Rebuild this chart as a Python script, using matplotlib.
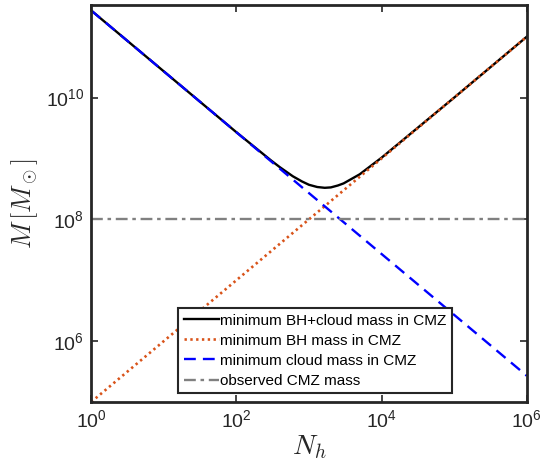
import matplotlib
matplotlib.use("Agg")
import matplotlib.pyplot as plt
from matplotlib.ticker import NullLocator

plt.rcParams['font.family'] = ['Liberation Sans', 'DejaVu Sans']
plt.rcParams['mathtext.fontset'] = 'cm'

# минимальная масса облака: прямая в log-log (концы)
n_cloud = [1, 1e6]
m_cloud = [2.7e11, 2.7e5]
# минимальная масса ЧД
n_bh = [1, 1e6]
m_bh = [1e5, 1e11]
# сумма ЧД + облако
n_tot = [1, 10, 100, 300, 400, 600, 800, 1000, 1300, 1650, 2000, 2500, 3000, 5000, 1e4, 1e5, 1e6]
m_tot = [2.7e11, 2.7e10, 2.7e9, 9.3e8, 7.15e8, 5.1e8, 4.2e8, 3.7e8, 3.4e8, 3.3e8,
         3.35e8, 3.6e8, 3.9e8, 5.5e8, 1.03e9, 1.0e10, 1.0e11]
# наблюдаемая масса CMZ
m_obs = 1e8

fig = plt.figure(figsize=(5.43, 4.74), dpi=100)
ax = fig.add_axes([0.168, 0.152, 0.802, 0.837])

ax.plot(n_tot, m_tot, color='black', lw=1.7, label='minimum BH+cloud mass in CMZ')
ax.plot(n_bh, m_bh, color='#D95319', lw=1.9, ls=(0, (0.9, 1.3)), label='minimum BH mass in CMZ')
ax.plot(n_cloud, m_cloud, color='#0000FF', lw=1.7, ls=(0, (5, 3)), label='minimum cloud mass in CMZ')
ax.axhline(m_obs, color='#808080', lw=1.7, ls=(0, (5, 2, 1.5, 2)), label='observed CMZ mass')

ax.set_xscale('log')
ax.set_yscale('log')
ax.set_xlim(1, 1e6)
ax.set_ylim(1e5, 3.3e11)
ax.set_xticks([1, 1e2, 1e4, 1e6])
ax.set_yticks([1e6, 1e8, 1e10])
ax.xaxis.set_minor_locator(NullLocator())
ax.yaxis.set_minor_locator(NullLocator())
ax.tick_params(direction='in', top=True, right=True, labelsize=14, length=5, width=1.2,
               colors='#262626', pad=5)
for s in ax.spines.values():
    s.set_linewidth(2)
    s.set_color('#262626')

ax.set_xlabel(r'$N_h$', fontsize=20, color='#262626', labelpad=2)
ax.set_ylabel(r'$M\,[M_\odot]$', fontsize=19, color='#262626', labelpad=4)

leg = ax.legend(loc='lower left', bbox_to_anchor=(0.2, 0.022), fontsize=11,
                handlelength=2.3, handletextpad=0.1, borderpad=0.35, labelspacing=0.4,
                fancybox=False, framealpha=1, borderaxespad=0)
leg.get_frame().set_edgecolor('#262626')
leg.get_frame().set_linewidth(1.5)

fig.savefig('out.png', dpi=100)
